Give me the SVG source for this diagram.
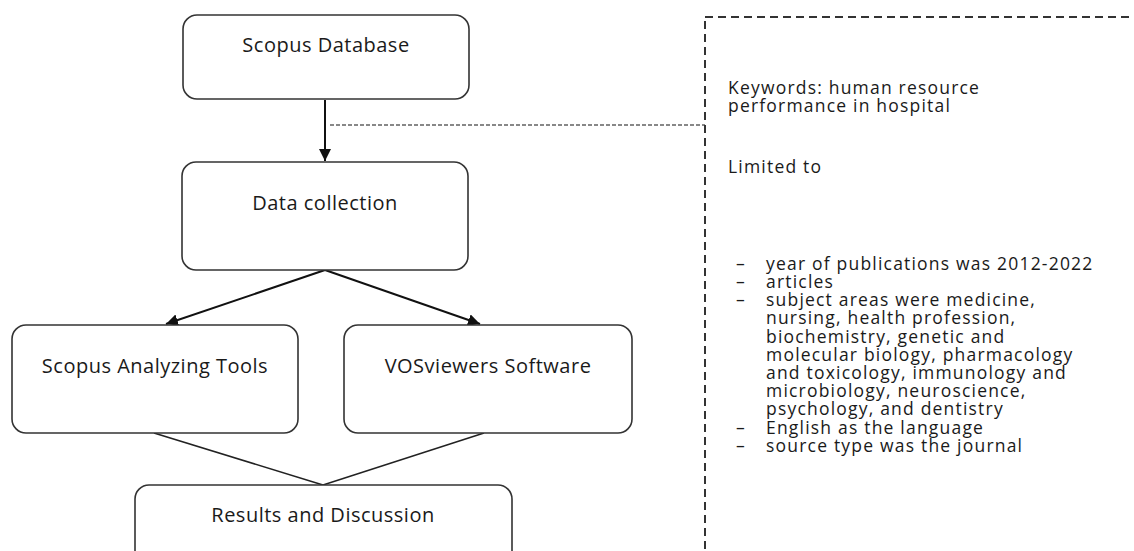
<svg xmlns="http://www.w3.org/2000/svg" width="1134" height="551" viewBox="0 0 1134 551">
<style>
.box{fill:#fff;stroke:#333;stroke-width:1.6}
.lbl{font-family:"Open Sans","Liberation Sans",sans-serif;font-size:20px;letter-spacing:0.5px;fill:#1a1a1a;text-anchor:middle}
.note{font-family:"Open Sans","Liberation Sans",sans-serif;font-size:17.5px;letter-spacing:1.2px;fill:#1a1a1a}
.conn{fill:none;stroke:#111;stroke-width:2}
.line{fill:none;stroke:#222;stroke-width:1.5}
</style>
<defs>
<marker id="ah" viewBox="0 0 10 10" refX="10" refY="5" markerWidth="6" markerHeight="6" orient="auto" markerUnits="strokeWidth">
<path d="M0,0 L10,5 L0,10 z" fill="#111"/>
</marker>
</defs>
<rect width="1134" height="551" fill="#fff"/>
<g id="connectors">
<line class="conn" x1="325" y1="100" x2="325" y2="161" marker-end="url(#ah)"/>
<line x1="330" y1="125" x2="705" y2="125" stroke="#888" stroke-width="2" stroke-dasharray="4 2"/>
<line class="conn" x1="325" y1="270" x2="166" y2="324" marker-end="url(#ah)"/>
<line class="conn" x1="325" y1="270" x2="480" y2="324" marker-end="url(#ah)"/>
<line class="line" x1="154" y1="433" x2="323" y2="485"/>
<line class="line" x1="484" y1="433" x2="323" y2="485"/>
</g>
<g id="scopus-database">
<rect class="box" x="183" y="15" width="286" height="84" rx="14"/>
<text class="lbl" x="326" y="52">Scopus Database</text>
</g>
<g id="data-collection">
<rect class="box" x="182" y="162" width="286" height="108" rx="14"/>
<text class="lbl" x="325" y="210">Data collection</text>
</g>
<g id="scopus-analyzing">
<rect class="box" x="12" y="325" width="286" height="108" rx="14"/>
<text class="lbl" x="155" y="373">Scopus Analyzing Tools</text>
</g>
<g id="vosviewers">
<rect class="box" x="344" y="325" width="288" height="108" rx="14"/>
<text class="lbl" x="488" y="373">VOSviewers Software</text>
</g>
<g id="results">
<rect class="box" x="135" y="485" width="377" height="90" rx="14"/>
<text class="lbl" x="323" y="522">Results and Discussion</text>
</g>
<g id="criteria">
<rect x="705" y="17" width="460" height="560" fill="none" stroke="#333" stroke-width="2" stroke-dasharray="8 5"/>
<text class="note" x="728" y="94">Keywords: human resource</text>
<text class="note" x="728" y="112">performance in hospital</text>
<text class="note" x="728" y="173">Limited to</text>
<text class="note" x="736" y="270">–</text>
<text class="note" x="766" y="270">year of publications was 2012-2022</text>
<text class="note" x="736" y="288">–</text>
<text class="note" x="766" y="288">articles</text>
<text class="note" x="736" y="306">–</text>
<text class="note" x="766" y="306">subject areas were medicine,</text>
<text class="note" x="766" y="324">nursing, health profession,</text>
<text class="note" x="766" y="343">biochemistry, genetic and</text>
<text class="note" x="766" y="361">molecular biology, pharmacology</text>
<text class="note" x="766" y="379">and toxicology, immunology and</text>
<text class="note" x="766" y="397">microbiology, neuroscience,</text>
<text class="note" x="766" y="415">psychology, and dentistry</text>
<text class="note" x="736" y="434">–</text>
<text class="note" x="766" y="434">English as the language</text>
<text class="note" x="736" y="452">–</text>
<text class="note" x="766" y="452">source type was the journal</text>
</g>
</svg>
